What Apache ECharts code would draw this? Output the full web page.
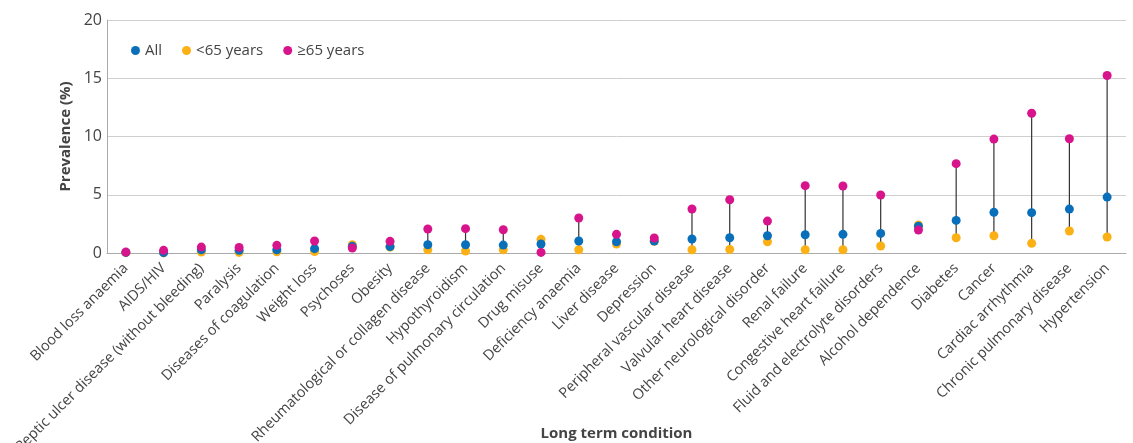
<!DOCTYPE html>
<html>
<head>
<meta charset="utf-8">
<script src="https://cdn.jsdelivr.net/npm/echarts@6/dist/echarts.min.js"></script>
<style>html,body{margin:0;padding:0;background:#fff}#c{width:1133px;height:443px}</style>
</head>
<body>
<div id="c"></div>
<script>
const categories = [
  "Blood loss anaemia","AIDS/HIV","Peptic ulcer disease (without bleeding)","Paralysis",
  "Diseases of coagulation","Weight loss","Psychoses","Obesity",
  "Rheumatological or collagen disease","Hypothyroidism","Disease of pulmonary circulation",
  "Drug misuse","Deficiency anaemia","Liver disease","Depression","Peripheral vascular disease",
  "Valvular heart disease","Other neurological disorder","Renal failure","Congestive heart failure",
  "Fluid and electrolyte disorders","Alcohol dependence","Diabetes","Cancer","Cardiac arrhythmia",
  "Chronic pulmonary disease","Hypertension"
];
const allAges = [0.05,0.03,0.28,0.23,0.28,0.37,0.57,0.55,0.71,0.71,0.68,0.77,1.03,0.97,1.03,1.2,1.31,1.48,1.57,1.6,1.68,2.3,2.8,3.49,3.46,3.77,4.8];
const under65 = [0.03,0.02,0.08,0.05,0.1,0.12,0.71,0.5,0.28,0.17,0.28,1.17,0.28,0.77,1.0,0.28,0.31,0.97,0.28,0.28,0.6,2.4,1.31,1.48,0.83,1.89,1.37];
const over65 = [0.08,0.23,0.51,0.48,0.66,1.03,0.43,1.0,2.06,2.09,2.0,0.05,3.0,1.6,1.29,3.78,4.57,2.74,5.78,5.75,4.98,1.97,7.67,9.78,12.0,9.81,15.24];
const yTicks = [0,5,10,15,20];

const rangeData = categories.map((c,i)=>{
  const v=[allAges[i],under65[i],over65[i]];
  return [i, Math.min(...v), Math.max(...v)];
});

const chart = echarts.init(document.getElementById('c'), null, {renderer:'canvas'});
const txt = '#444';
const font = 'Open Sans';
chart.setOption({
  animation:false,
  textStyle:{fontFamily:font},
  grid:{left:107,right:7,top:20,bottom:190,containLabel:false,outerBoundsMode:'none'},
  legend:{
    data:['All','<65 years','≥65 years'],
    left:126, top:38, icon:'circle', itemWidth:9, itemHeight:9, itemGap:20,
    textStyle:{color:txt,fontSize:15,fontFamily:font}
  },
  xAxis:{
    type:'category', data:categories,
    name:'Long term condition', nameLocation:'middle', nameGap:173, nameMoveOverlap:false,
    nameTextStyle:{fontWeight:'bold',fontSize:15,color:txt,fontFamily:font},
    axisLine:{lineStyle:{color:'#aaa'}},
    axisTick:{alignWithLabel:true,length:5,lineStyle:{color:'#aaa'}},
    axisLabel:{rotate:45,interval:0,fontSize:14.5,color:txt,margin:13,fontFamily:font}
  },
  yAxis:{
    type:'value', min:yTicks[0], max:yTicks[yTicks.length-1], interval:5,
    name:'Prevalence (%)', nameLocation:'middle', nameGap:34, nameMoveOverlap:false,
    nameTextStyle:{fontWeight:'bold',fontSize:15,color:txt,fontFamily:font},
    axisLine:{show:true,lineStyle:{color:'#aaa'}},
    axisTick:{show:false},
    splitLine:{lineStyle:{color:'#cfcfcf'}},
    axisLabel:{fontSize:16,color:txt,margin:5,fontFamily:font}
  },
  series:[
    {
      type:'custom', name:'range', data:rangeData, z:1,
      renderItem:function(params,api){
        const lo=api.coord([api.value(0),api.value(1)]);
        const hi=api.coord([api.value(0),api.value(2)]);
        return {type:'line',shape:{x1:lo[0],y1:lo[1],x2:hi[0],y2:hi[1]},
          style:{stroke:'#333',lineWidth:1.2}};
      }
    },
    {type:'scatter',name:'<65 years',data:under65,symbolSize:9,itemStyle:{color:'#fbb116',opacity:1},z:2},
    {type:'scatter',name:'All',data:allAges,symbolSize:9,itemStyle:{color:'#0a6fba',opacity:1},z:3},
    {type:'scatter',name:'≥65 years',data:over65,symbolSize:9,itemStyle:{color:'#d8148c',opacity:1},z:4}
  ]
});
</script>
</body>
</html>
